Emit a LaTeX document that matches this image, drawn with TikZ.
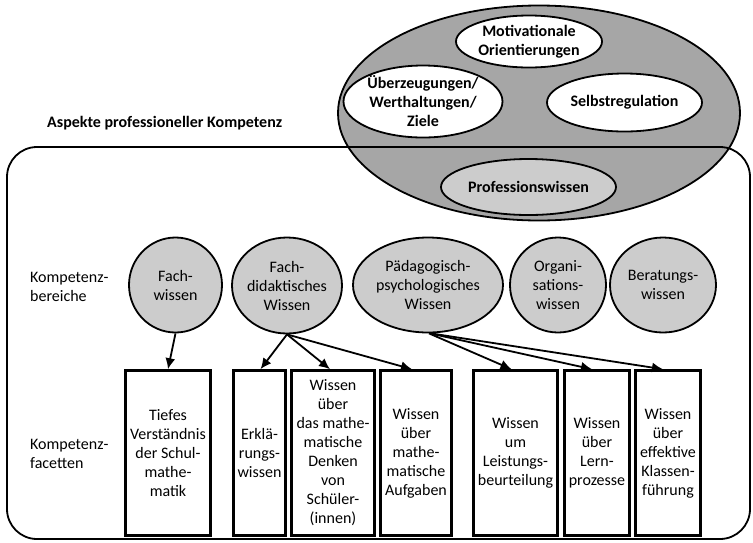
\documentclass[tikz,border=0pt]{standalone}
\usepackage{fontspec}
\setmainfont{Carlito}
\usetikzlibrary{shapes.geometric,arrows.meta}
\definecolor{outergray}{HTML}{A6A6A6}
\definecolor{innergray}{HTML}{CCCCCC}
\begin{document}
\begin{tikzpicture}[x=1pt,y=-1pt,
  font=\fontsize{16}{19}\selectfont,
  oval/.style={ellipse, draw, line width=1.8pt, inner sep=0pt},
  txt/.style={align=center, inner sep=0pt},
  bold/.style={txt, font=\fontsize{16}{19}\selectfont\bfseries},
  facet/.style={draw, line width=2.6pt, fill=white, inner sep=0pt, align=center,
                minimum height=165pt},
  arr/.style={line width=1.8pt, -{Latex[length=11pt,width=10pt]}},
]
\useasboundingbox (0,0) rectangle (753,542);

% personal characteristics around professional knowledge
\node[oval, fill=outergray, minimum width=402pt, minimum height=215pt] (aspects) at (539,113) {};
% frame of the professional knowledge model
\draw[line width=1.8pt, rounded corners=30pt] (7,147) rectangle (750,539);
\node[bold, anchor=west] (title) at (47,123) {Aspekte professioneller Kompetenz};

\node[oval, fill=white, minimum width=146pt, minimum height=52pt] (motiv) at (529,41.5) {};
\node[bold] (motivtext) at (motiv) {Motivationale\\Orientierungen};
\node[oval, fill=white, minimum width=159pt, minimum height=72pt] (belief) at (423,101.5) {};
\node[bold] (belieftext) at (belief) {Überzeugungen/\\Werthaltungen/\\Ziele};
\node[oval, fill=white, minimum width=155pt, minimum height=58pt] (selfreg) at (624.5,102.5) {};
\node[bold] (selfregtext) at (selfreg) {Selbstregulation};
\node[oval, fill=innergray, minimum width=175pt, minimum height=56pt] (prof) at (528.5,187) {};
\node[bold] (proftext) at (prof) {Professionswissen};

% row labels
\node[txt, align=left, anchor=west] (lblareas) at (30,286.5) {Kompetenz-\\bereiche};
\node[txt, align=left, anchor=west] (lblfacets) at (30,454) {Kompetenz-\\facetten};

% competence areas
\node[oval, fill=innergray, minimum width=93pt, minimum height=95pt] (fw) at (175.5,285) {};
\node[txt] (fwtext) at (fw) {Fach-\\wissen};
\node[oval, fill=innergray, minimum width=110pt, minimum height=96pt] (fdw) at (287,285.5) {};
\node[txt] (fdwtext) at (fdw) {Fach-\\didaktisches\\Wissen};
\node[oval, fill=innergray, minimum width=150pt, minimum height=95pt] (ppw) at (428,285) {};
\node[txt] (ppwtext) at (ppw) {Pädagogisch-\\psychologisches\\Wissen};
\node[oval, fill=innergray, minimum width=96pt, minimum height=95pt] (ow) at (558,285) {};
\node[txt] (owtext) at (ow) {Organi-\\sations-\\wissen};
\node[oval, fill=innergray, minimum width=106pt, minimum height=95pt] (bw) at (663,285) {};
\node[txt] (bwtext) at (bw) {Beratungs-\\wissen};

% competence facets
\node[facet, minimum width=85pt] (f1) at (168,453) {Tiefes\\Verständnis\\der Schul-\\mathe-\\matik};
\node[facet, minimum width=52pt] (f2) at (259.5,453) {Erklä-\\rungs-\\wissen};
\node[facet, minimum width=83pt] (f3) at (333,453) {Wissen\\über\\das mathe-\\matische\\Denken\\von\\Schüler-\\(innen)};
\node[facet, minimum width=71pt] (f4) at (416,453) {Wissen\\über\\mathe-\\matische\\Aufgaben};
\node[facet, minimum width=84pt] (f5) at (515.5,453) {Wissen\\um\\Leistungs-\\beurteilung};
\node[facet, minimum width=65pt] (f6) at (597,453) {Wissen\\über\\Lern-\\prozesse};
\node[facet, minimum width=65pt] (f7) at (668,453) {Wissen\\über\\effektive\\Klassen-\\führung};

% links from areas to facets
\draw[arr] (fw.south) -- (f1.north);
\draw[arr] (fdw.south) -- ([xshift=1pt]f2.north);
\draw[arr] (fdw.south) -- ([xshift=-3pt]f3.north);
\draw[arr] (fdw.south) -- ([xshift=-4pt]f4.north);
\draw[arr] ([xshift=1pt]ppw.south) -- ([xshift=-4pt]f5.north);
\draw[arr] ([xshift=2pt]ppw.south) -- ([xshift=-5pt]f6.north);
\draw[arr] ([xshift=3pt]ppw.south) -- ([xshift=-5pt]f7.north);
\end{tikzpicture}
\end{document}
